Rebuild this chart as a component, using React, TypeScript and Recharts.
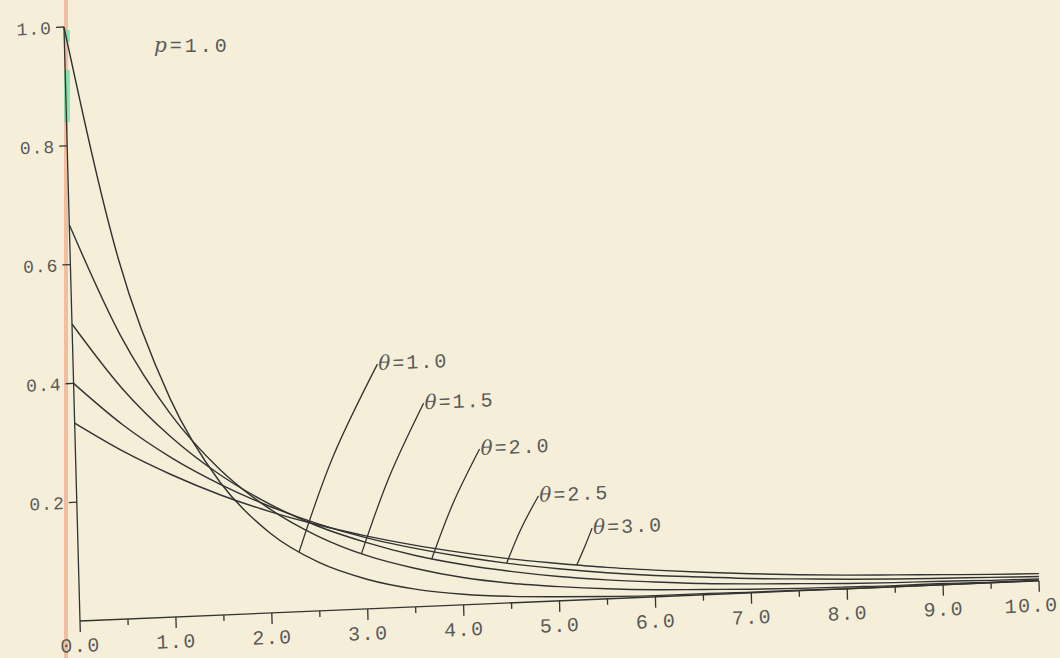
import { LineChart, Line, XAxis, YAxis } from 'recharts';

// x grid shared by every curve
const xValues = [0, 0.5, 1, 1.5, 2, 2.5, 3, 3.5, 4, 4.5, 5, 5.5, 6, 6.5, 7, 7.5, 8, 8.5, 9, 9.5, 10];

// density values, one list per theta
const theta10 = [1.0, 0.607, 0.368, 0.223, 0.135, 0.082, 0.05, 0.03, 0.018, 0.011, 0.007, 0.004, 0.002, 0.002, 0.001, 0.001, 0.0, 0.0, 0.0, 0.0, 0.0];
const theta15 = [0.667, 0.478, 0.342, 0.245, 0.176, 0.126, 0.09, 0.065, 0.046, 0.033, 0.024, 0.017, 0.012, 0.009, 0.006, 0.004, 0.003, 0.002, 0.002, 0.001, 0.001];
const theta20 = [0.5, 0.389, 0.303, 0.236, 0.184, 0.143, 0.112, 0.087, 0.068, 0.053, 0.041, 0.032, 0.025, 0.019, 0.015, 0.012, 0.009, 0.007, 0.006, 0.004, 0.003];
const theta25 = [0.4, 0.327, 0.268, 0.22, 0.18, 0.147, 0.12, 0.099, 0.081, 0.066, 0.054, 0.044, 0.036, 0.03, 0.024, 0.02, 0.016, 0.013, 0.011, 0.009, 0.007];
const theta30 = [0.333, 0.282, 0.239, 0.202, 0.171, 0.145, 0.123, 0.104, 0.088, 0.074, 0.063, 0.053, 0.045, 0.038, 0.032, 0.027, 0.023, 0.02, 0.017, 0.014, 0.012];

const thetaNames = ['1.0', '1.5', '2.0', '2.5', '3.0'];

// leader lines: [on curve, bend, label end]
const leaderX = [
  [2.3, 2.68, 3.17],
  [2.95, 3.26, 3.64],
  [3.68, 3.92, 4.21],
  [4.46, 4.62, 4.81],
  [5.19, 5.28, 5.36],
];
const leaderY = [
  [0.1, 0.258, 0.411],
  [0.093, 0.22, 0.342],
  [0.079, 0.172, 0.261],
  [0.067, 0.124, 0.178],
  [0.059, 0.09, 0.12],
];

const xTicks = [0, 0.5, 1, 1.5, 2, 2.5, 3, 3.5, 4, 4.5, 5, 5.5, 6, 6.5, 7, 7.5, 8, 8.5, 9, 9.5, 10];
const yTicks = [0.2, 0.4, 0.6, 0.8, 1.0];

const INK = '#333';
const TEXT = '#5a5a5a';
const FONT = '"Liberation Mono", "DejaVu Sans Mono", monospace';

const rows = xValues.map((x, i) => ({
  x,
  t10: theta10[i],
  t15: theta15[i],
  t20: theta20[i],
  t25: theta25[i],
  t30: theta30[i],
}));

const leaders = leaderX.map((xs, k) => xs.map((x, j) => ({ x, y: leaderY[k][j] })));

const XTick = ({ x, y, payload }: any) => {
  const major = Number.isInteger(payload.value);
  const last = payload.value === 10;
  return (
    <g>
      <line x1={x} y1={y} x2={x} y2={y + (major ? 11 : 6)} stroke={INK} strokeWidth={1.3} />
      {major && (
        <text
          x={last ? x + 19 : x}
          y={y + 31}
          textAnchor={last ? 'end' : 'middle'}
          fontSize={20}
          letterSpacing={1.5}
          fill={TEXT}
          fontFamily={FONT}
        >
          {payload.value.toFixed(1)}
        </text>
      )}
    </g>
  );
};

const leaderLabel = (name: string) => (p: any) => {
  if (p.index !== 2) return null;
  return (
    <text x={p.x + 1} y={p.y + 6} fontSize={20} letterSpacing={2} fill={TEXT} fontFamily={FONT}>
      <tspan fontStyle="italic" fontFamily='"DejaVu Serif", serif'>θ</tspan>={name}
    </text>
  );
};

export default function App() {
  return (
    <div style={{ position: 'absolute', left: 0, top: 0, width: 1060, height: 658, background: '#f5efd9', overflow: 'hidden' }}>
      {/* scanner streak along the left edge */}
      <div style={{ position: 'absolute', left: 64, top: 0, width: 4, height: 658, background: 'rgba(240,150,110,0.55)' }} />
      <div style={{ position: 'absolute', left: 64, top: 30, width: 6, height: 12, background: 'rgba(110,225,170,0.75)' }} />
      <div style={{ position: 'absolute', left: 64, top: 70, width: 6, height: 52, background: 'rgba(110,225,170,0.75)' }} />

      <div
        style={{
          position: 'absolute',
          left: 0,
          top: 0,
          transformOrigin: '80px 621px',
          transform: 'matrix(1, -0.042, 0.027, 1, 0, 0)',
        }}
      >
        <LineChart width={1060} height={658} data={rows} margin={{ top: 27, right: 21, bottom: 7, left: 0 }}>
          <XAxis
            dataKey="x"
            type="number"
            domain={[0, 10]}
            ticks={xTicks}
            interval={0}
            tickSize={0}
            tickMargin={0}
            tickLine={false}
            tick={<XTick />}
            height={30}
            axisLine={{ stroke: INK, strokeWidth: 1.3 }}
          />
          <YAxis
            type="number"
            domain={[0, 1]}
            ticks={yTicks}
            width={80}
            tickSize={8}
            tickMargin={4}
            tickFormatter={(v: number) => v.toFixed(1)}
            tick={{ fontSize: 18, fill: TEXT, fontFamily: FONT, letterSpacing: 1 }}
            tickLine={{ stroke: INK, strokeWidth: 1.3 }}
            axisLine={{ stroke: INK, strokeWidth: 1.3 }}
          />
          {['t10', 't15', 't20', 't25', 't30'].map((k) => (
            <Line key={k} dataKey={k} type="monotone" stroke={INK} strokeWidth={1.4} dot={false} isAnimationActive={false} />
          ))}
          {leaders.map((pts, k) => (
            <Line
              key={`leader-${k}`}
              data={pts}
              dataKey="y"
              type="natural"
              stroke={INK}
              strokeWidth={1.3}
              dot={false}
              isAnimationActive={false}
              label={leaderLabel(thetaNames[k])}
            />
          ))}
        </LineChart>
      </div>

      <div style={{ position: 'absolute', left: 154, top: 33, fontFamily: FONT, fontSize: 20, letterSpacing: 3, color: TEXT }}>
        <span style={{ fontStyle: 'italic', fontFamily: '"DejaVu Serif", serif' }}>p</span>=1.0
      </div>
    </div>
  );
}
